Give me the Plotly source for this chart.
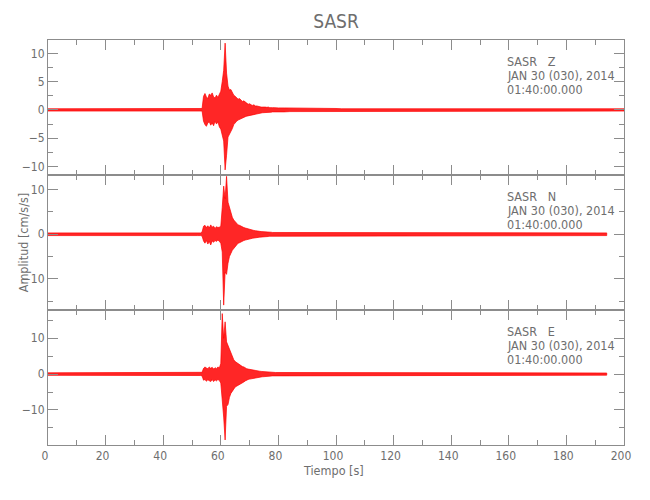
import plotly.graph_objects as go
from plotly.subplots import make_subplots

# ---------------- data (envelopes) ----------------
t_pre = [0, 2, 4, 6, 8, 10, 12, 14, 16, 18, 20, 22, 24, 26, 28, 30, 32, 34, 36, 38,
         40, 42, 44, 46, 48, 50, 52]
t_main = [53.0, 53.5, 54.0, 54.5, 55.0, 55.5, 56.0, 56.5, 57.0, 57.5, 58.0, 58.5,
          59.0, 59.5, 60.0, 60.5, 61.0, 61.5, 62.0, 62.5, 63.0, 63.5, 64.0, 64.5,
          65.0, 65.5, 66.0, 66.5, 67.0, 67.5, 68.0, 68.5, 69.0, 69.5, 70.0, 70.5,
          71.0, 71.5, 72.0, 72.5, 73.0, 73.5, 74.0, 74.5, 75.0, 75.5, 76.0, 76.5,
          77.0, 77.5, 78.0, 78.5, 79.0, 79.5, 80.0]
t_coda = [82, 84, 86, 88, 90, 92, 94, 96, 98, 100]
t_post = [102, 106, 110, 114, 118, 122, 126, 130, 134, 138, 142, 146, 150, 154,
          158, 162, 166, 170, 174, 178, 182, 186, 190, 194]
t_tail_z = [197, 200]

# Z component
z_pre_hi = [.2, .2, .2, .2, .2, .2, .3, .2, .2, .2, .2, .2, .2, .3, .2, .2, .2, .2, .2, .2,
            .2, .25, .3, .3, .3, .2, .2]
z_pre_lo = [-.2, -.2, -.2, -.2, -.2, -.2, -.25, -.2, -.2, -.2, -.2, -.2, -.2, -.25, -.2, -.2,
            -.2, -.2, -.2, -.2, -.2, -.2, -.25, -.25, -.25, -.2, -.2]
z_main_hi = [0.2, 0.25, 2.4, 2.9, 2.3, 2.0, 2.8, 2.6, 3.0, 2.3, 2.1, 2.6, 2.2, 2.8, 3.3,
             5.0, 7.0, 11.8, 6.5, 4.2, 3.5, 3.6, 3.0, 2.6, 2.4, 2.2, 1.9, 2.0, 1.7, 1.5,
             1.6, 1.3, 1.2, 1.0, 1.1, 0.9, 0.8, 0.9, 0.7, 0.7, 0.6, 0.6, 0.5, 0.5, 0.55,
             0.5, 0.45, 0.5, 0.4, 0.45, 0.4, 0.4, 0.35, 0.4, 0.35]
z_main_lo = [-0.2, -0.2, -2.0, -2.6, -2.9, -2.3, -2.1, -2.7, -2.3, -2.8, -2.0, -2.5, -2.1,
             -3.0, -3.4, -4.2, -5.5, -10.6, -8.0, -4.8, -4.5, -3.8, -3.3, -2.6, -2.4,
             -2.0, -1.8, -1.6, -1.5, -1.4, -1.3, -1.2, -1.1, -1.0, -0.9, -0.9, -0.8,
             -0.8, -0.7, -0.7, -0.6, -0.6, -0.55, -0.5, -0.5, -0.45, -0.45, -0.4, -0.4,
             -0.4, -0.35, -0.35, -0.35, -0.3, -0.3]
z_coda_hi = [.35, .35, .3, .3, .3, .3, .25, .25, .25, .25]
z_coda_lo = [-.35, -.3, -.3, -.3, -.3, -.25, -.25, -.25, -.25, -.2]
z_post_hi = [.2, .2, .3, .2, .2, .2, .3, .2, .2, .2, .2, .2, .25, .2, .3, .2, .2, .2,
             .2, .3, .25, .2, .2, .2]
z_post_lo = [-.2, -.2, -.25, -.2, -.2, -.2, -.25, -.2, -.2, -.2, -.2, -.2, -.2, -.2, -.25,
             -.2, -.2, -.2, -.2, -.25, -.2, -.2, -.2, -.2]
z_tail_hi = [.2, .2]
z_tail_lo = [-.2, -.2]

# N component
n_pre_hi = [.3, .3, .45, .3, .3, .3, .4, .45, .45, .3, .3, .3, .3, .4, .3, .3, .3, .3, .3,
            .3, .3, .35, .45, .4, .45, .3, .3]
n_pre_lo = [-.3, -.3, -.4, -.3, -.3, -.3, -.35, -.4, -.4, -.3, -.3, -.3, -.3, -.35, -.3,
            -.3, -.3, -.3, -.3, -.3, -.3, -.3, -.4, -.4, -.4, -.3, -.3]
n_main_hi = [0.3, 0.5, 1.8, 2.0, 1.5, 1.9, 1.4, 2.1, 1.6, 1.8, 1.3, 1.7, 1.5, 1.6, 1.8,
             6.0, 10.8, 8.0, 13.0, 7.2, 6.0, 4.5, 3.8, 3.2, 2.8, 2.5, 2.1, 2.0, 1.8, 1.6,
             1.5, 1.4, 1.3, 1.1, 1.0, 1.0, 0.9, 0.85, 0.8, 0.7, 0.7, 0.65, 0.6, 0.6,
             0.55, 0.5, 0.5, 0.5, 0.45, 0.45, 0.4, 0.4, 0.4, 0.35, 0.35]
n_main_lo = [-0.3, -0.4, -1.5, -2.0, -1.4, -2.2, -1.6, -2.4, -1.5, -1.8, -1.4, -1.6,
             -1.3, -1.6, -2.0, -4.0, -15.9, -8.5, -9.0, -6.5, -5.0, -4.3, -3.6, -3.0,
             -2.8, -2.4, -2.0, -1.9, -1.7, -1.6, -1.4, -1.3, -1.2, -1.1, -1.0, -0.95,
             -0.9, -0.85, -0.8, -0.7, -0.7, -0.65, -0.6, -0.6, -0.55, -0.5, -0.5, -0.5,
             -0.45, -0.45, -0.4, -0.4, -0.4, -0.35, -0.35]
n_coda_hi = [.35, .35, .35, .3, .3, .3, .3, .3, .3, .3]
n_coda_lo = [-.35, -.35, -.3, -.3, -.3, -.3, -.3, -.3, -.3, -.3]
n_post_hi = [.3, .3, .4, .3, .3, .3, .4, .3, .3, .3, .3, .3, .3, .3, .3, .3, .3, .3,
             .3, .3, .3, .3, .3, .3]
n_post_lo = [-.3, -.3, -.35, -.3, -.3, -.3, -.4, -.3, -.3, -.3, -.3, -.3, -.3, -.3, -.3,
             -.3, -.3, -.3, -.3, -.3, -.3, -.3, -.3, -.3]

# E component
e_pre_hi = [.35, .35, .5, .35, .35, .35, .35, .5, .55, .35, .35, .35, .45, .4, .45, .35,
            .35, .35, .35, .35, .35, .4, .5, .45, .5, .35, .4]
e_pre_lo = [-.35, -.35, -.45, -.35, -.35, -.35, -.35, -.45, -.5, -.35, -.35, -.35, -.4,
            -.4, -.4, -.35, -.35, -.35, -.35, -.35, -.35, -.35, -.45, -.45, -.45, -.35, -.4]
e_main_hi = [0.4, 0.5, 1.6, 2.0, 1.7, 1.5, 2.0, 1.6, 1.9, 1.4, 1.8, 1.5, 2.0, 1.7, 3.0,
             16.9, 10.0, 14.6, 9.0, 8.0, 6.8, 5.5, 4.5, 4.0, 3.5, 3.2, 2.8, 2.6, 2.3,
             2.1, 2.0, 1.7, 1.5, 1.4, 1.3, 1.2, 1.1, 1.0, 0.95, 0.9, 0.85, 0.8, 0.75,
             0.7, 0.65, 0.6, 0.6, 0.55, 0.55, 0.5, 0.5, 0.5, 0.45, 0.45, 0.45]
e_main_lo = [-0.4, -0.5, -1.7, -1.5, -2.0, -1.6, -1.8, -2.1, -1.5, -2.1, -1.6, -1.9,
             -1.5, -1.8, -2.5, -6.0, -12.0, -18.4, -9.0, -8.5, -6.5, -5.4, -4.8, -4.2,
             -3.6, -3.3, -3.0, -2.8, -2.6, -2.4, -2.2, -1.9, -1.6, -1.5, -1.4, -1.3,
             -1.2, -1.1, -1.0, -0.95, -0.9, -0.85, -0.8, -0.75, -0.7, -0.65, -0.6, -0.6,
             -0.55, -0.55, -0.5, -0.5, -0.5, -0.45, -0.45]
e_coda_hi = [.45, .45, .4, .4, .4, .35, .35, .35, .35, .35]
e_coda_lo = [-.45, -.4, -.4, -.4, -.35, -.35, -.35, -.35, -.35, -.35]
e_post_hi = [.3, .3, .4, .3, .3, .3, .4, .3, .3, .3, .3, .3, .3, .3, .3, .3, .3, .3,
             .3, .3, .3, .3, .3, .3]
e_post_lo = [-.3, -.3, -.35, -.3, -.3, -.3, -.4, -.3, -.3, -.3, -.3, -.3, -.3, -.3, -.3,
             -.3, -.3, -.3, -.3, -.3, -.3, -.3, -.3, -.3]

components = ["Z", "N", "E"]
station = "SASR"
date_label = "JAN 30 (030), 2014"
time_label = "01:40:00.000"
y_ranges = [[-11.5, 12.35], [-17.0, 13.3], [-19.8, 17.9]]
y_dticks = [5, 10, 10]
y_minor = [2.5, 5, 5]

# ---------------- build ----------------
t_common = t_pre + t_main + t_coda + t_post
series = [
    (t_common + t_tail_z,
     z_pre_hi + z_main_hi + z_coda_hi + z_post_hi + z_tail_hi,
     z_pre_lo + z_main_lo + z_coda_lo + z_post_lo + z_tail_lo),
    (t_common,
     n_pre_hi + n_main_hi + n_coda_hi + n_post_hi,
     n_pre_lo + n_main_lo + n_coda_lo + n_post_lo),
    (t_common,
     e_pre_hi + e_main_hi + e_coda_hi + e_post_hi,
     e_pre_lo + e_main_lo + e_coda_lo + e_post_lo),
]

fig = make_subplots(rows=3, cols=1, shared_xaxes=True, vertical_spacing=0)

RED = "#ff0000"
GRAY = "#8c8c8c"
TXT = "#6e6e6e"
FONT = "Liberation Sans Narrow, DejaVu Sans Condensed, Liberation Sans, sans-serif"

for i, (tt, hi, lo) in enumerate(series):
    fig.add_trace(go.Scatter(
        x=tt + tt[::-1], y=hi + lo[::-1], mode="lines", fill="toself",
        fillcolor="rgba(255,0,0,0.85)", line=dict(color=RED, width=0.7),
        hoverinfo="skip", showlegend=False), row=i + 1, col=1)

for i in range(3):
    fig.update_yaxes(
        range=y_ranges[i], dtick=y_dticks[i], tick0=0, ticks="inside", ticklen=10,
        tickcolor=GRAY, showline=True, linecolor=GRAY, linewidth=1, mirror="ticks",
        showgrid=False, zeroline=False, tickfont=dict(family=FONT, size=12, color=TXT),
        minor=dict(dtick=y_minor[i], tick0=0, ticks="inside", ticklen=5, tickcolor=GRAY),
        row=i + 1, col=1)
    fig.update_xaxes(
        range=[0, 200], dtick=20, tick0=0, ticks="inside", ticklen=10, tickcolor=GRAY,
        showline=True, linecolor=GRAY, linewidth=1, mirror="ticks", showgrid=False,
        zeroline=False, tickfont=dict(family=FONT, size=12, color=TXT),
        ticklabelshift=-3,
        minor=dict(dtick=10, ticks="inside", ticklen=5, tickcolor=GRAY),
        row=i + 1, col=1)

# panel annotations
ann = []
panel_tops = [1.0, 2 / 3, 1 / 3]
plot_h = 405.0
for i, comp in enumerate(components):
    lines = [station + "\u00a0\u00a0\u00a0" + comp, date_label, time_label]
    for j, txt in enumerate(lines):
        ann.append(dict(
            text=txt, xref="paper", yref="paper", x=0.794,
            y=panel_tops[i] - (21.5 + 14.2 * j) / plot_h,
            xanchor="left", yanchor="middle", showarrow=False,
            font=dict(family=FONT, size=12.5, color=TXT)))

ann.append(dict(text="Amplitud [cm/s/s]", xref="paper", yref="paper", x=-0.042, y=0.5,
                textangle=-90, xanchor="center", yanchor="middle", showarrow=False,
                font=dict(family=FONT, size=12.5, color=TXT)))
ann.append(dict(text="Tiempo [s]", xref="paper", yref="paper", x=0.495, y=-0.064,
                xanchor="center", yanchor="middle", showarrow=False,
                font=dict(family=FONT, size=12.5, color=TXT)))

# the page adds an 8 px body margin, so margins are reduced by 8 px on left/top
fig.update_layout(
    width=650, height=500,
    margin=dict(l=40, r=34, t=32, b=63),
    paper_bgcolor="white", plot_bgcolor="white",
    title=dict(text=station, x=0.5, xref="paper", y=1 - 13.7 / 500, yanchor="middle",
               font=dict(family=FONT, size=19, color=TXT)),
    annotations=ann,
)

fig.write_html("out.html")
